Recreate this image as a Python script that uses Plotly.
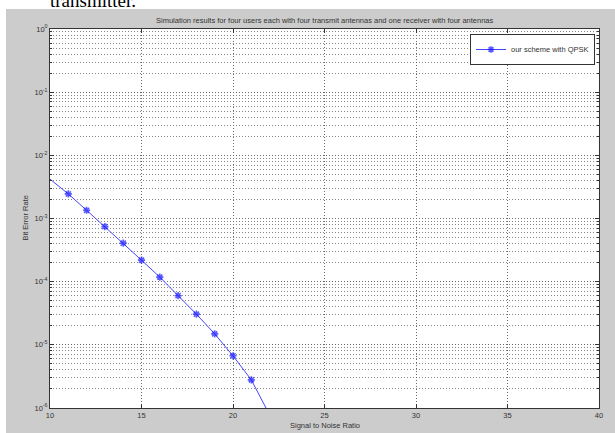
import plotly.graph_objects as go

# ---- data ----
snr = [10, 11, 12, 13, 14, 15, 16, 17, 18, 19, 20, 21, 22]
ber = [4.2e-3, 2.45e-3, 1.35e-3, 7.45e-4, 4.07e-4, 2.19e-4, 1.18e-4,
       6.0e-5, 3.06e-5, 1.49e-5, 6.7e-6, 2.79e-6, 7.8e-7]
series_name = "our scheme with QPSK"
x_ticks = [10, 15, 20, 25, 30, 35, 40]
y_ticks = [1e-6, 1e-5, 1e-4, 1e-3, 1e-2, 1e-1, 1e0]
y_ticktext = ["10<sup>-6</sup>", "10<sup>-5</sup>", "10<sup>-4</sup>", "10<sup>-3</sup>",
              "10<sup>-2</sup>", "10<sup>-1</sup>", "10<sup>0</sup>"]
title_text = "Simulation results for four users each with four transmit antennas and one receiver with four antennas"
x_title = "Signal to Noise Ratio"
y_title = "Bit Error Rate"
caption_text = "transmitter."

W, H = 615, 433
L, R, T, B = 50, 16, 29, 25
pw, ph = W - L - R, H - T - B

def px(xp):
    return (xp - L) / pw

def py(yp):
    return (H - B - yp) / ph

FONT = "Liberation Sans, Arial, sans-serif"
TXT = "#333333"
GRAY_BG = "#cccccc"

marker_sizes = [0] + [6] * (len(snr) - 1)

fig = go.Figure()
fig.add_trace(go.Scatter(
    x=snr, y=ber, mode="lines+markers", name=series_name,
    line=dict(color="rgb(70,70,255)", width=1),
    marker=dict(symbol="asterisk-open", size=marker_sizes, color="rgb(20,20,255)",
                line=dict(color="rgb(20,20,255)", width=1.6)),
))

fig.update_layout(
    width=W, height=H,
    margin=dict(l=L, r=R, t=T, b=B, pad=0),
    paper_bgcolor=GRAY_BG,
    plot_bgcolor="white",
    font=dict(family=FONT, size=7.5, color=TXT),
    showlegend=True,
    legend=dict(x=px(595), y=py(34), xanchor="right", yanchor="top",
                bgcolor="white", bordercolor="#333333", borderwidth=1,
                font=dict(size=7.5, color=TXT), itemwidth=30,
                tracegroupgap=0),
    shapes=[
        dict(type="rect", xref="paper", yref="paper", layer="below",
             x0=px(-5), x1=px(W + 5), y0=py(9), y1=py(-5),
             fillcolor="white", line=dict(width=0)),
        dict(type="rect", xref="paper", yref="paper", layer="below",
             x0=px(-5), x1=px(6), y0=py(H + 5), y1=py(-5),
             fillcolor="white", line=dict(width=0)),
    ],
    annotations=[
        dict(text=title_text, xref="paper", yref="paper", x=0.5, y=py(20),
             xanchor="center", yanchor="middle", showarrow=False,
             font=dict(size=7.5, color=TXT, family=FONT)),
        dict(text=x_title, xref="paper", yref="paper", x=0.5, y=py(425),
             xanchor="center", yanchor="middle", showarrow=False,
             font=dict(size=7.5, color=TXT, family=FONT)),
        dict(text=y_title, xref="paper", yref="paper", x=px(25), y=0.5,
             xanchor="center", yanchor="middle", showarrow=False, textangle=-90,
             font=dict(size=7.5, color=TXT, family=FONT)),
        dict(text=caption_text, xref="paper", yref="paper", x=px(48), y=py(13),
             xanchor="left", yanchor="bottom", showarrow=False,
             font=dict(size=19, color="black", family="Liberation Serif, Times New Roman, serif")),
    ],
)

fig.update_xaxes(
    range=[10, 40], tickvals=x_ticks, ticks="inside", ticklen=4, tickcolor="#333333",
    showline=True, mirror="ticks", linecolor="#333333", linewidth=1,
    showgrid=True, gridcolor="#6a6a6a", griddash="1px,2px", gridwidth=1,
    zeroline=False, tickfont=dict(size=7.5, color=TXT),
)
fig.update_yaxes(
    type="log", range=[-6, 0], tickvals=y_ticks, ticktext=y_ticktext,
    ticks="inside", ticklen=4, tickcolor="#333333",
    showline=True, mirror="ticks", linecolor="#333333", linewidth=1,
    showgrid=True, gridcolor="#6a6a6a", griddash="1px,2px", gridwidth=1,
    zeroline=False, tickfont=dict(size=7.5, color=TXT),
    minor=dict(dtick="D1", showgrid=True, gridcolor="#888888", griddash="1px,2px",
               gridwidth=1, ticks="inside", ticklen=2, tickcolor="#333333"),
)

fig.write_html("out.html", config={"displayModeBar": False},
               post_script="document.body.style.margin='0px';document.body.style.padding='0px';")
